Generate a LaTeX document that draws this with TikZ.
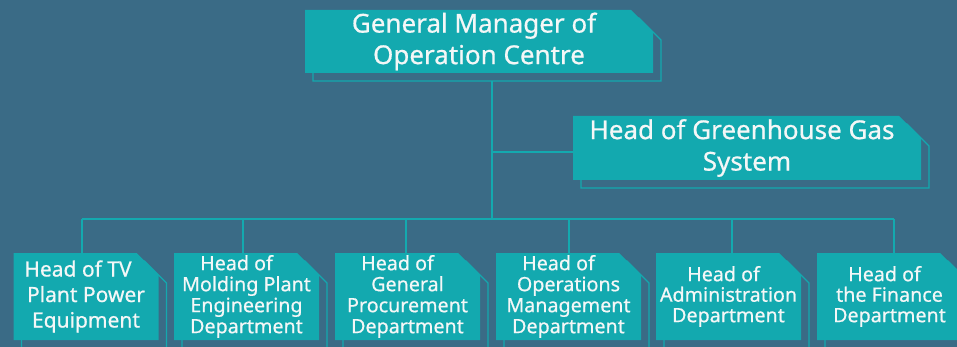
\documentclass[tikz,border=0pt]{standalone}
\usepackage{fontspec}
\setmainfont{Noto Sans}[FakeBold=0.6]
\definecolor{bgc}{HTML}{3A6B86}
\definecolor{tealc}{HTML}{13A9AF}
\definecolor{txtc}{HTML}{F4F7F7}
\pgfdeclarelayer{bglayer}
\pgfdeclarelayer{linelayer}
\pgfdeclarelayer{shadowlayer}
\pgfdeclarelayer{boxlayer}
\pgfsetlayers{bglayer,linelayer,shadowlayer,boxlayer,main}
\tikzset{
  box/.style={rectangle, text=txtc, align=center, inner sep=0pt, outer sep=0pt},
  boxfill/.style={fill=tealc},
  shadowline/.style={draw=tealc, fill=bgc, line width=1.2pt},
  conn/.style={draw=tealc, line width=1.2pt},
  bigbox/.style={box, minimum width=348pt, minimum height=63pt, font=\fontsize{26}{31.5}\selectfont},
  smallbox/.style={box, minimum width=145pt, minimum height=87pt},
  fA/.style={font=\fontsize{21}{25.5}\selectfont},
  fB/.style={font=\fontsize{19.7}{21}\selectfont},
  fC/.style={font=\fontsize{19.7}{20.5}\selectfont},
}
% #1 node name, #2 offset
\newcommand\chpath[2]{([shift={#2}]#1.south west) -- ([shift={#2}]#1.north west) -- ([shift={#2},xshift=-22pt]#1.north east) -- ([shift={#2},yshift=-22pt]#1.north east) -- ([shift={#2}]#1.south east) -- cycle}
\begin{document}
\begin{tikzpicture}[x=1pt,y=-1pt]
\begin{pgfonlayer}{bglayer}
\fill[bgc] (0,0) rectangle (957,347);
\end{pgfonlayer}
\useasboundingbox (0,0) rectangle (957,347);
\clip (0,0) rectangle (957,347);
% boxes
\node[bigbox] (gm) at (479,41.5) {General Manager of\hspace*{10pt}\\Operation Centre};
\node[bigbox, minimum height=64pt] (gh) at (747,148) {Head of Greenhouse Gas\hspace*{10pt}\\System};
\node[smallbox, fA] (b1) at (86,296.5) {Head of TV\hspace*{16pt}\\Plant Power\\Equipment};
\node[smallbox, fB] (b2) at (246.5,296.5) {Head of\hspace*{20pt}\\Molding Plant\\Engineering\\Department};
\node[smallbox, fB] (b3) at (407.5,296.5) {Head of\hspace*{20pt}\\General\\Procurement\\Department};
\node[smallbox, fB] (b4) at (568.5,296.5) {Head of\hspace*{20pt}\\Operations\\Management\\Department};
\node[smallbox, fC] (b5) at (728.5,296.5) {Head of\hspace*{10pt}\\Administration\\Department};
\node[smallbox, fC] (b6) at (889.5,296.5) {Head of\hspace*{10pt}\\the Finance\\Department};
% box fills and shadows
\foreach \n in {gm,gh,b1,b2,b3,b4,b5,b6}{
  \begin{pgfonlayer}{boxlayer}
    \fill[boxfill] \chpath{\n}{(0,0)};
  \end{pgfonlayer}
  \begin{pgfonlayer}{shadowlayer}
    \filldraw[shadowline] \chpath{\n}{(8,8)};
  \end{pgfonlayer}
}
% connectors
\coordinate (j0) at (492,219);
\coordinate (jg) at (492,152);
\coordinate (d1) at (82,219);
\coordinate (d2) at (243,219);
\coordinate (d3) at (406,219);
\coordinate (d4) at (569,219);
\coordinate (d5) at (732,219);
\coordinate (d6) at (894,219);
\begin{pgfonlayer}{linelayer}
\draw[conn] (gm.south -| j0) -- (j0);
\draw[conn] (jg) -- (jg -| gh.west);
\draw[conn] (d1) -- (d6);
\foreach \i in {1,...,6}{
  \draw[conn] (d\i) -- (d\i |- b\i.north);
}
\end{pgfonlayer}
\end{tikzpicture}
\end{document}
